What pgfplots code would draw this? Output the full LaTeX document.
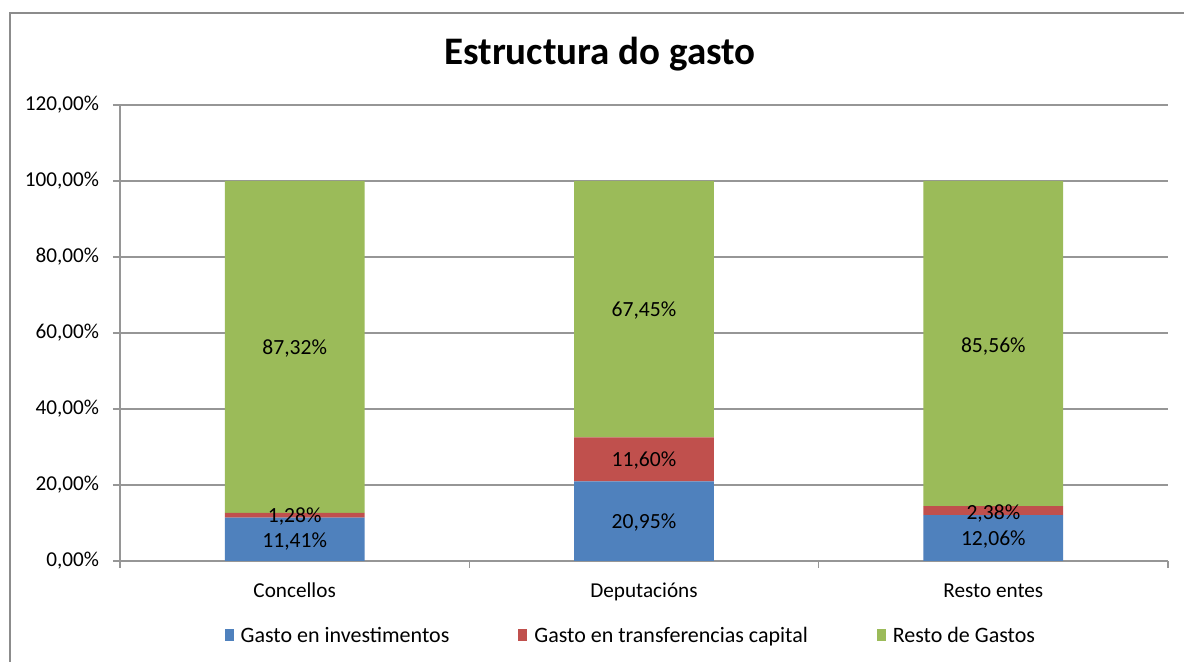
\documentclass[border=0pt]{standalone}
\usepackage{fontspec}
\setmainfont{Carlito}
\usepackage{pgfplots}
\pgfplotsset{compat=1.18}
\definecolor{cblue}{HTML}{4F81BD}
\definecolor{cred}{HTML}{C0504D}
\definecolor{cgreen}{HTML}{9BBB59}
\definecolor{gridgray}{HTML}{969696}
\definecolor{framegray}{HTML}{8C8C8C}
\tikzset{lbl/.style={font=\fontsize{10.8}{12}\selectfont, inner sep=0pt}}
\begin{document}
\begin{tikzpicture}
\useasboundingbox (0pt,0pt) rectangle (592pt,331pt);
\clip (0pt,0pt) rectangle (592pt,331pt);
\fill[white] (0pt,0pt) rectangle (592pt,331pt);
\draw[color=framegray, line width=1pt] (5pt,324.5pt) rectangle (640pt,-30pt);
\node[font=\fontsize{19.5}{23}\selectfont\bfseries] at (300pt,304pt) {Estructura do gasto};
\begin{axis}[
  at={(60pt,50.5pt)}, anchor=south west, scale only axis,
  width=524pt, height=228pt,
  ybar stacked, bar width=0.4,
  xmin=-0.5, xmax=2.5, ymin=0, ymax=120,
  ytick={0,20,...,120},
  yticklabels={{0,00\%},{20,00\%},{40,00\%},{60,00\%},{80,00\%},{100,00\%},{120,00\%}},
  xtick={-0.5,0.5,1.5,2.5}, xticklabels={},
  extra x ticks={0,1,2},
  extra x tick labels={Concellos,Deputacións,Resto entes},
  extra x tick style={major tick length=0pt, grid=none, xticklabel style={yshift=-7.3pt, text depth=0.25em, text height=0.75em}},
  tick align=outside, major tick length=3.5pt,
  tick style={draw=gridgray, line width=0.6pt},
  ymajorgrids, grid style={draw=gridgray, line width=0.6pt},
  axis x line*=bottom, axis y line*=left,
  axis line style={draw=gridgray, line width=0.6pt},
  ticklabel style={font=\fontsize{10.6}{12}\selectfont},
  yticklabel style={xshift=-3.5pt},
  legend columns=3,
  legend style={at={(0.4865,-0.166)}, anchor=center, draw=none, fill=none,
    font=\fontsize{11}{13}\selectfont,
    nodes={inner sep=0pt},
    /tikz/every odd column/.append style={column sep=3.5pt},
    /tikz/every even column/.append style={column sep=34.5pt}},
  legend image code/.code={\fill[#1] (0pt,-2.4pt) rectangle (4.5pt,4.0pt);},
]
\addplot[fill=cblue, draw=none] coordinates {(0,11.41) (1,20.95) (2,12.06)};
\addplot[fill=cred, draw=none] coordinates {(0,1.28) (1,11.60) (2,2.38)};
\addplot[fill=cgreen, draw=none] coordinates {(0,87.32) (1,67.45) (2,85.56)};
\legend{Gasto en investimentos,Gasto en transferencias capital,Resto de Gastos}
\coordinate (a1) at (axis cs:0,5.0);
\coordinate (a2) at (axis cs:0,11.6);
\coordinate (a3) at (axis cs:0,55.8);
\coordinate (b1) at (axis cs:1,10.2);
\coordinate (b2) at (axis cs:1,26.4);
\coordinate (b3) at (axis cs:1,65.8);
\coordinate (c1) at (axis cs:2,5.75);
\coordinate (c2) at (axis cs:2,12.6);
\coordinate (c3) at (axis cs:2,56.5);
\end{axis}
\node[lbl] at (a1) {11,41\%};
\node[lbl] at (a2) {1,28\%};
\node[lbl] at (a3) {87,32\%};
\node[lbl] at (b1) {20,95\%};
\node[lbl] at (b2) {11,60\%};
\node[lbl] at (b3) {67,45\%};
\node[lbl] at (c1) {12,06\%};
\node[lbl] at (c2) {2,38\%};
\node[lbl] at (c3) {85,56\%};
\end{tikzpicture}
\end{document}
